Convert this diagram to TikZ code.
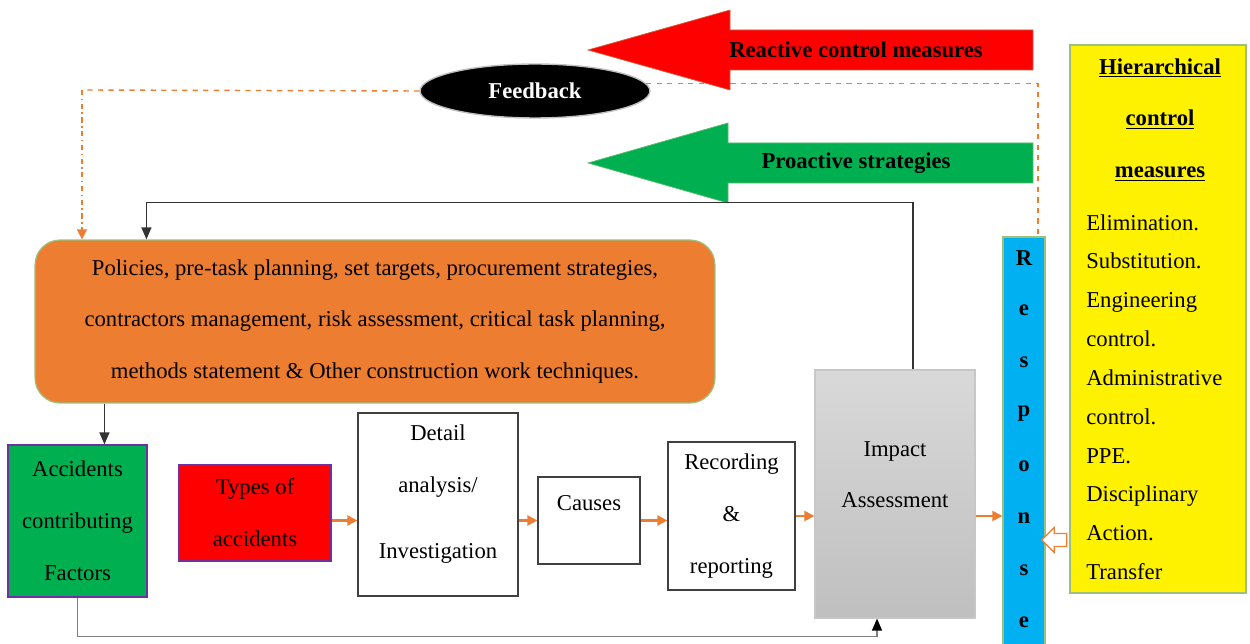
\documentclass[tikz,border=0pt]{standalone}
\usepackage{fontspec}
\setmainfont{Liberation Serif}
\usetikzlibrary{arrows.meta,positioning,calc,shapes.geometric,shapes.arrows}
\definecolor{Orng}{HTML}{ED7D31}
\definecolor{Grn}{HTML}{00B050}
\definecolor{Purp}{HTML}{7030A0}
\definecolor{Sky}{HTML}{00B0F0}
\definecolor{Leaf}{HTML}{9DC17A}
\definecolor{Slate}{HTML}{7F7F7F}
\newcommand\fs{\fontsize{12.9}{29.5}\selectfont}
\tikzset{blok/.style={draw=black!75,line width=.7pt,align=center,font=\fs,inner sep=0pt},txt/.style={align=center,font=\fs,inner sep=0pt},oflow/.style={-{Triangle[length=2mm,width=2mm]},line width=1.2pt,draw=Orng},kflow/.style={-{Triangle[length=2.4mm,width=2mm]},line width=.8pt,draw=black!80},fback/.style={line width=.8pt,draw=Orng,dashed}}

\begin{document}
\begin{tikzpicture}[x=0.02cm,y=-0.02cm]
\useasboundingbox (0,0) rectangle (1250,644);
% main boxes
\node[blok,draw=Leaf,fill=Orng,rounded corners=.5cm,minimum width=13.6cm,minimum height=3.26cm] (pol) at (375,321.5) {Policies, pre-task planning, set targets, procurement strategies,\\contractors management, risk assessment, critical task planning,\\methods statement \& Other construction work techniques.};
\node[blok,draw=Purp,fill=Grn,minimum width=2.78cm,minimum height=3.04cm] (acc) at (77.5,521) {Accidents\\contributing\\Factors};
\node[blok,draw=Purp,fill=red,minimum width=3.04cm,minimum height=1.92cm] (types) at (255,513) {Types of\\accidents};
\node[blok,minimum width=3.2cm,minimum height=3.66cm] (detail) at (438,504.5) {};
\node[txt] (detailtxt) at ([yshift=6pt]detail.center) {Detail\\analysis/\\[8pt]Investigation};
\node[blok,minimum width=2.04cm,minimum height=1.74cm] (causes) at (589,520.5) {};
\node[txt] (causestxt) at ([yshift=10pt]causes.center) {Causes};
\node[blok,minimum width=2.54cm,minimum height=2.96cm] (rec) at (731.5,516) {Recording\\\&\\reporting};
\node[blok,draw=black!22,top color=black!15,bottom color=black!25,minimum width=3.2cm,minimum height=4.96cm] (imp) at (895,494) {};
\node[txt] (imptxt) at ([yshift=11pt]imp.center) {Impact\\Assessment};
\node[blok,draw=Leaf,fill=Sky,minimum width=.84cm,minimum height=8.3cm] (resp) at (1024,444.5) {};
\foreach \l [count=\i] in {R,e,s,p,o,n,s,e}
  \node[txt,font=\fs\bfseries] (r\i) at (1024,{206+52*\i}) {\l};
\node[blok,draw=Leaf,fill=yellow,minimum width=3.52cm,minimum height=10.96cm] (hcm) at (1158,319) {};
\node[txt,font=\fs\bfseries] (hcmhead) at (1160,120) {\underline{Hierarchical}\\\underline{control}\\\underline{measures}};
\node[txt,align=left,anchor=north west,font=\fontsize{12.9}{22.1}\selectfont] (hcmlist) at (1086,214) {Elimination.\\Substitution.\\Engineering\\control.\\Administrative\\control.\\PPE.\\Disciplinary\\Action.\\Transfer};
\node[single arrow,draw=Orng,fill=white,line width=.7pt,shape border rotate=180,inner sep=.12cm,single arrow head extend=.12cm,minimum height=.5cm] (into) at (1057.5,540) {};
% feedback
\node[ellipse,fill=black,draw=black!25,line width=.8pt,minimum width=4.6cm,minimum height=1.08cm,text=white,font=\fs\bfseries] (fb) at (535,91) {Feedback};
\coordinate (fbturn) at (82,90);
\draw[fback] (fb.west) -- (fbturn);
\draw[fback,dash dot,-{Triangle[length=2mm,width=2mm]}] (fbturn) -- (fbturn |- pol.north);
\draw[fback,line width=.6pt] (fb.4) -| ([xshift=.28cm]resp.north);
% big arrows
\filldraw[fill=red,draw=Leaf!50!red] (588,50) -- (730,10) -- (730,30) -- (1033,30) -- (1033,70) -- (730,70) -- (730,90) -- cycle;
\node[txt,font=\fs\bfseries] (react) at (856,50) {Reactive control measures};
\filldraw[fill=Grn,draw=Leaf!60!Grn] (588,163) -- (728,123) -- (728,143) -- (1033,143) -- (1033,183) -- (728,183) -- (728,203) -- cycle;
\node[txt,font=\fs\bfseries] (proact) at (856,163) {Proactive strategies};
% connectors
\draw[kflow] ([xshift=.36cm]imp.north) |- ([xshift=2.24cm,yshift=.74cm]pol.north west) -- ([xshift=2.24cm]pol.north west);
\draw[kflow] ([xshift=1.4cm]pol.south west) -- ([xshift=1.4cm]pol.south west |- acc.north);
\draw[kflow,draw=Slate,-{Triangle[length=2.4mm,width=2mm,color=black]}] (acc.south) -- ++(0,39) -| ([xshift=-.36cm]imp.south);
\draw[oflow] (types.east |- causes) -- (detail.west |- causes);
\draw[oflow] (detail.east |- causes) -- (causes.west);
\draw[oflow] (causes.east) -- (rec.west |- causes);
\draw[oflow] (rec.east) -- (imp.west |- rec);
\draw[oflow] (imp.east |- rec) -- (resp.west |- rec);
\end{tikzpicture}
\end{document}
